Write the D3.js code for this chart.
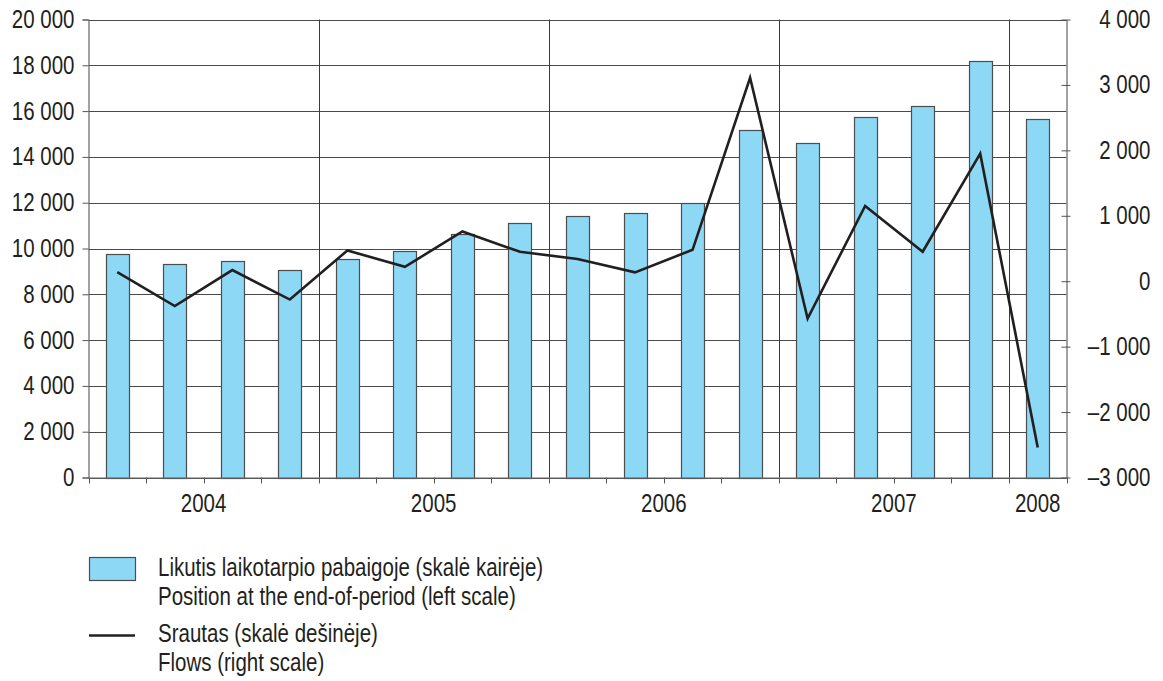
<!DOCTYPE html>
<html><head><meta charset="utf-8">
<script src="https://cdn.jsdelivr.net/npm/d3@7"></script>
<style>
body{margin:0;background:#fff;}
text{font-family:"Liberation Sans",Arial,sans-serif;fill:#231f20;}
</style></head>
<body><svg id="c" width="1163" height="681"></svg>
<script>
const periods = ["2004Q1","2004Q2","2004Q3","2004Q4","2005Q1","2005Q2","2005Q3","2005Q4","2006Q1","2006Q2","2006Q3","2006Q4","2007Q1","2007Q2","2007Q3","2007Q4","2008Q1"];
const positions = [9750,9330,9460,9080,9550,9910,10650,11130,11400,11550,12000,15170,14600,15750,16210,18190,15660];
const flows = [140,-380,170,-280,470,220,760,450,340,135,480,3110,-570,1150,450,1950,-2540];
const years = ["2004","2005","2006","2007","2008"];
const leftTicks = [0,2000,4000,6000,8000,10000,12000,14000,16000,18000,20000];
const rightTicks = [-3000,-2000,-1000,0,1000,2000,3000,4000];
const legendBars = ["Likutis laikotarpio pabaigoje (skalė kairėje)","Position at the end-of-period (left scale)"];
const legendLine = ["Srautas (skalė dešinėje)","Flows (right scale)"];

const svg = d3.select("#c");
const L=88.5, R=1066.5, T=19.5, B=477.5;
const FS = 25, SX = 0.82;
const loc = d3.formatLocale({thousands:"\u00a0", grouping:[3], decimal:",", currency:["",""], minus:"–"});
const fmt = loc.format(",d");

const x = d3.scaleBand().domain(periods).range([L,R]).padding(0);
const yL = d3.scaleLinear().domain([0,20000]).range([B,T]);
const yR = d3.scaleLinear().domain([-3000,4000]).range([B,T]);

// horizontal grid
svg.append("g").selectAll("line").data(leftTicks).join("line")
  .attr("x1",L).attr("x2",R).attr("y1",d=>Math.round(yL(d))+0.5).attr("y2",d=>Math.round(yL(d))+0.5)
  .attr("stroke","#4a4a4a").attr("stroke-width",1);
// vertical year lines
const yearStarts = periods.map((p,i)=>i).filter(i=>i>0 && periods[i].endsWith("Q1"));
svg.append("g").selectAll("line").data(yearStarts).join("line")
  .attr("x1",i=>Math.round(x(periods[i]))+0.5).attr("x2",i=>Math.round(x(periods[i]))+0.5)
  .attr("y1",T).attr("y2",B).attr("stroke","#3a3a3a").attr("stroke-width",1);

// bars
const bw = x.bandwidth()*0.4;
svg.append("g").selectAll("rect").data(periods).join("rect")
  .attr("x",(d)=>Math.round(x(d)+(x.bandwidth()-bw)/2)+0.5)
  .attr("y",(d,i)=>Math.round(yL(positions[i]))+0.5)
  .attr("width",Math.round(bw))
  .attr("height",(d,i)=>Math.round(B)-Math.round(yL(positions[i])))
  .attr("fill","#8dd8f5").attr("stroke","#4d4d4d").attr("stroke-width",1.2);

// axes
const axL = d3.axisLeft(yL).tickValues(leftTicks).tickFormat(fmt).tickSize(6).tickPadding(8);
const gL = svg.append("g").attr("transform",`translate(${L},0)`).call(axL);
const axR = d3.axisRight(yR).tickValues(rightTicks).tickFormat(fmt).tickSize(0).tickPadding(12);
const gR = svg.append("g").attr("transform",`translate(${R},0)`).call(axR);
gR.selectAll(".tick").append("line").attr("x1",-5).attr("x2",4).attr("stroke","#555");
gR.selectAll("text").attr("text-anchor","end").attr("x",84);
const axB = d3.axisBottom(x).tickValues([]).tickSize(0);
const gB = svg.append("g").attr("transform",`translate(0,${B})`).call(axB);
[gL,gR,gB].forEach(g=>{
  g.select(".domain").attr("stroke","#666").attr("stroke-width",1.2);
  g.selectAll(".tick line").attr("stroke","#555");
  g.selectAll("text").attr("font-size",FS).attr("fill","#231f20")
   .attr("font-family",'"Liberation Sans",Arial,sans-serif');
});
// bottom ticks at band boundaries
const bounds = periods.map(p=>x(p)).concat([R]);
gB.selectAll("line.bt").data(bounds).join("line").attr("class","bt")
  .attr("x1",d=>Math.round(d)+0.5).attr("x2",d=>Math.round(d)+0.5).attr("y1",0).attr("y2",6).attr("stroke","#555");
// year labels
const yearCenters = years.map(yr=>{
  const idx = periods.map((p,i)=>i).filter(i=>periods[i].startsWith(yr));
  return (x(periods[idx[0]]) + x(periods[idx[idx.length-1]]) + x.bandwidth())/2;
});
gB.selectAll("text.yr").data(years).join("text").attr("class","yr")
  .attr("x",(d,i)=>yearCenters[i]).attr("y",34.5).attr("text-anchor","middle")
  .attr("font-size",FS).text(d=>d);

// flow line
const line = d3.line().x((d,i)=>x(periods[i])+x.bandwidth()/2).y(d=>yR(d));
svg.append("path").datum(flows).attr("d",line).attr("fill","none")
  .attr("stroke","#231f20").attr("stroke-width",2.6).attr("stroke-linejoin","miter");

// legend
const lg = svg.append("g");
lg.append("rect").attr("x",89.5).attr("y",557.5).attr("width",46).attr("height",23)
  .attr("fill","#8dd8f5").attr("stroke","#4d4d4d").attr("stroke-width",1.2);
lg.append("line").attr("x1",89).attr("x2",135).attr("y1",635.5).attr("y2",635.5)
  .attr("stroke","#231f20").attr("stroke-width",2.6);
lg.selectAll("text.a").data(legendBars).join("text").attr("class","a")
  .attr("x",158).attr("y",(d,i)=>576+i*29.5).attr("font-size",FS).text(d=>d);
lg.selectAll("text.b").data(legendLine).join("text").attr("class","b")
  .attr("x",158).attr("y",(d,i)=>642.5+i*28.5).attr("font-size",FS).text(d=>d);

// condensed look: horizontal scale of every text
svg.selectAll("text").each(function(){
  const t = d3.select(this);
  const xv = +t.attr("x") || 0;
  t.attr("x", xv/SX).attr("transform", `scale(${SX},1)`);
});
</script></body></html>
